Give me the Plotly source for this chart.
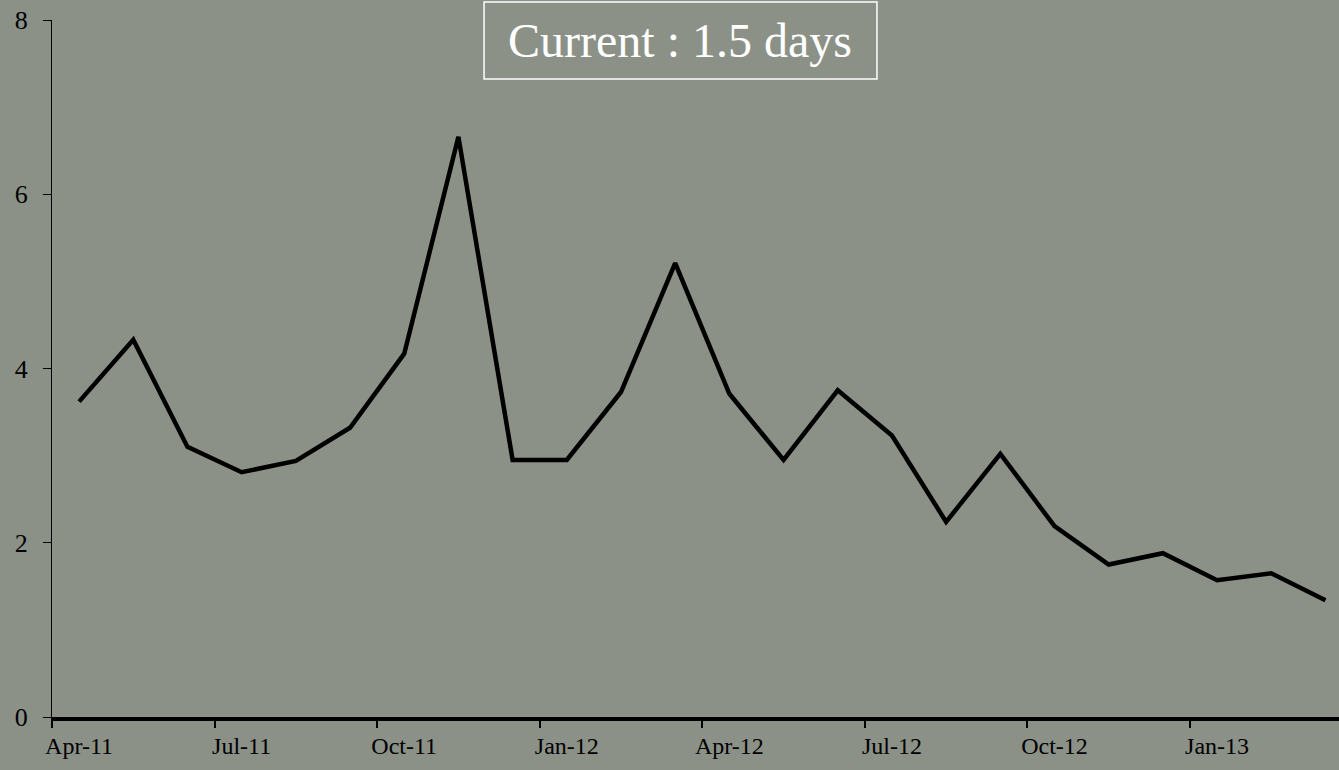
import plotly.graph_objects as go

# monthly values (days)
months = [
    "Apr-11", "May-11", "Jun-11", "Jul-11", "Aug-11", "Sep-11",
    "Oct-11", "Nov-11", "Dec-11", "Jan-12", "Feb-12", "Mar-12",
    "Apr-12", "May-12", "Jun-12", "Jul-12", "Aug-12", "Sep-12",
    "Oct-12", "Nov-12", "Dec-12", "Jan-13", "Feb-13", "Mar-13",
]
days = [
    3.62, 4.33, 3.10, 2.81, 2.94, 3.32,
    4.17, 6.66, 2.95, 2.95, 3.73, 5.21,
    3.71, 2.95, 3.75, 3.23, 2.24, 3.02,
    2.19, 1.75, 1.88, 1.57, 1.65, 1.34,
]
y_ticks = [0, 2, 4, 6, 8]
title_text = "Current : 1.5 days"

bg = "#8c9188"
font_family = "Liberation Serif, DejaVu Serif, serif"

idx = list(range(len(months)))
label_idx = idx[::3]

fig = go.Figure()
fig.add_scatter(
    x=idx,
    y=days,
    mode="lines",
    line=dict(color="black", width=4.5),
    hoverinfo="skip",
)

fig.update_layout(
    width=1339,
    height=770,
    paper_bgcolor=bg,
    plot_bgcolor=bg,
    showlegend=False,
    margin=dict(l=52, r=0, t=20, b=53, autoexpand=False),
    font=dict(family=font_family, size=24, color="black"),
)

fig.update_xaxes(
    range=[-0.5, 23.25],
    automargin=False,
    tickmode="array",
    tickvals=label_idx,
    ticktext=[months[i] for i in label_idx],
    ticks="",
    showgrid=False,
    zeroline=False,
    showline=True,
    linecolor="black",
    linewidth=4,
    minor=dict(
        ticks="outside",
        tick0=-0.5,
        dtick=3,
        ticklen=7,
        tickwidth=2,
        tickcolor="black",
        showgrid=False,
    ),
    tickfont=dict(size=24),
    ticklabelstandoff=4,
)
fig.update_yaxes(
    range=[0, 8],
    automargin=False,
    tickmode="array",
    tickvals=y_ticks,
    ticks="outside",
    ticklen=8,
    tickwidth=1,
    tickcolor="black",
    showgrid=False,
    zeroline=False,
    showline=True,
    linecolor="black",
    linewidth=1,
    tickfont=dict(size=26),
    ticklabelstandoff=10,
)

# boxed "current" label at the top
fig.add_shape(
    type="rect",
    xref="paper", yref="paper",
    x0=0.3357, x1=0.641, y0=0.9154, y1=1.0258,
    line=dict(color="white", width=1.5),
    fillcolor="rgba(0,0,0,0)",
)
fig.add_annotation(
    text=title_text,
    xref="paper", yref="paper",
    x=0.4883, y=0.9706,
    xanchor="center", yanchor="middle",
    showarrow=False,
    font=dict(family=font_family, size=48, color="white"),
)

# drop the default page margin so the figure sits at the window's corner
fig.write_html(
    "out.html",
    config={"displayModeBar": False},
    post_script="document.body.style.margin='0';document.body.style.background='%s';" % bg,
)
